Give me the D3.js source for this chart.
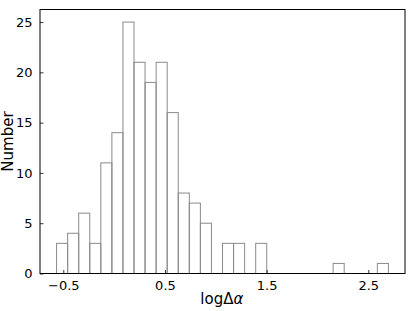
<!DOCTYPE html>
<html>
<head>
<meta charset="utf-8">
<script src="https://cdn.jsdelivr.net/npm/d3@7"></script>
<style>
  body { margin: 0; background: #fff; }
  text { font-family: "DejaVu Sans", sans-serif; fill: #000; }
</style>
</head>
<body>
<div id="chart"></div>
<script>
// histogram: 30 bins between binStart and binEnd
const binStart = -0.566;
const binEnd = 2.698;
const counts = [3, 4, 6, 3, 11, 14, 25, 21, 19, 21, 16, 8, 7, 5, 0, 3, 3, 0, 3, 0, 0, 0, 0, 0, 0, 1, 0, 0, 0, 1];
const xTicks = [-0.5, 0.5, 1.5, 2.5];
const yTicks = [0, 5, 10, 15, 20, 25];

const width = 415, height = 311;
const margin = {left: 40, right: 10, top: 9.5, bottom: 37.5};

const svg = d3.select('#chart').append('svg')
  .attr('width', width)
  .attr('height', height);

const binWidth = (binEnd - binStart) / counts.length;
const bins = counts.map((c, i) => ({x0: binStart + i * binWidth, x1: binStart + (i + 1) * binWidth, n: c}));

const x = d3.scaleLinear()
  .domain([-0.729, 2.861])
  .range([margin.left, width - margin.right]);
const y = d3.scaleLinear()
  .domain([0, 26.25])
  .range([height - margin.bottom, margin.top]);

svg.append('g')
  .selectAll('rect')
  .data(bins.filter(d => d.n > 0))
  .enter()
  .append('rect')
  .attr('x', d => x(d.x0))
  .attr('y', d => y(d.n))
  .attr('width', d => x(d.x1) - x(d.x0))
  .attr('height', d => y(0) - y(d.n))
  .attr('fill', 'none')
  .attr('stroke', '#8a8a8a')
  .attr('stroke-width', 1);

// axes with inward ticks
const xAxis = d3.axisBottom(x)
  .tickValues(xTicks)
  .tickSize(-3.5)
  .tickPadding(7)
  .tickFormat(d => d < 0 ? '\u2212' + Math.abs(d) : d);
const yAxis = d3.axisLeft(y)
  .tickValues(yTicks)
  .tickSize(-3.5)
  .tickPadding(7.5);

const gx = svg.append('g')
  .attr('transform', `translate(0, ${height - margin.bottom})`)
  .call(xAxis);
const gy = svg.append('g')
  .attr('transform', `translate(${margin.left}, 0)`)
  .call(yAxis);

[gx, gy].forEach(g => {
  g.select('.domain').remove();
  g.selectAll('text').style('font-size', '13px').style('font-family', '"DejaVu Sans", sans-serif');
  g.selectAll('line').attr('stroke', '#000').attr('stroke-width', 0.8);
});

// frame
svg.append('rect')
  .attr('x', margin.left)
  .attr('y', margin.top)
  .attr('width', width - margin.left - margin.right)
  .attr('height', height - margin.top - margin.bottom)
  .attr('fill', 'none')
  .attr('stroke', '#000')
  .attr('stroke-width', 1);

svg.append('text')
  .attr('x', x(1.06))
  .attr('y', 304)
  .attr('text-anchor', 'middle')
  .style('font-size', '15px')
  .html('log\u0394<tspan font-style="italic">\u03b1</tspan>');

svg.append('text')
  .attr('transform', `translate(13, ${(margin.top + height - margin.bottom) / 2}) rotate(-90)`)
  .attr('text-anchor', 'middle')
  .style('font-size', '15px')
  .text('Number');
</script>
</body>
</html>
